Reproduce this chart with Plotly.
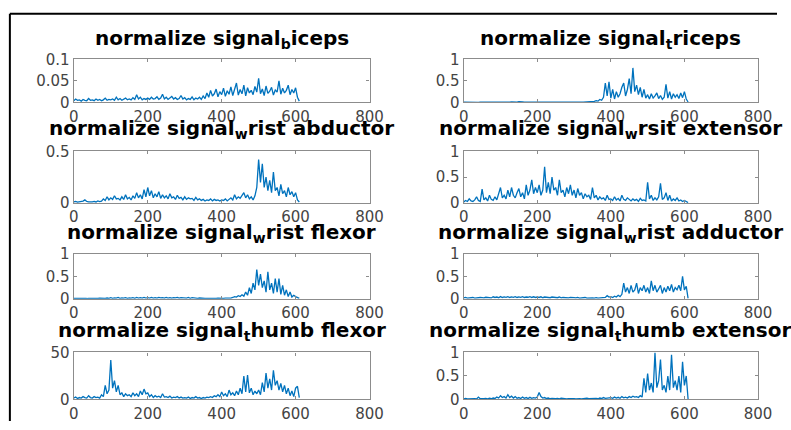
import plotly.graph_objects as go

STEP = 5  # sample spacing of the values below (x = 0, 5, 10, ...)

titles = [
    "normalize signal<sub>b</sub>iceps",
    "normalize signal<sub>t</sub>riceps",
    "normalize signal<sub>w</sub>rist abductor",
    "normalize signal<sub>w</sub>rsit extensor",
    "normalize signal<sub>w</sub>rist flexor",
    "normalize signal<sub>w</sub>rist adductor",
    "normalize signal<sub>t</sub>humb flexor",
    "normalize signal<sub>t</sub>humb extensor",
]

biceps = [
    0.004,0.008,0.005,0.006,0.003,0.007,0.005,0.004,0.009,0.005,
    0.006,0.004,0.008,0.005,0.007,0.004,0.006,0.010,0.005,0.007,
    0.006,0.008,0.005,0.012,0.006,0.009,0.005,0.007,0.010,0.006,
    0.008,0.006,0.011,0.007,0.018,0.008,0.012,0.006,0.009,0.007,
    0.010,0.007,0.012,0.008,0.009,0.013,0.007,0.010,0.019,0.008,
    0.012,0.007,0.010,0.014,0.008,0.011,0.007,0.009,0.016,0.008,
    0.011,0.006,0.009,0.007,0.013,0.006,0.010,0.008,0.012,0.007,
    0.015,0.009,0.022,0.012,0.028,0.015,0.020,0.031,0.013,0.025,
    0.018,0.033,0.014,0.027,0.019,0.036,0.016,0.029,0.045,0.017,
    0.030,0.020,0.040,0.015,0.034,0.022,0.028,0.018,0.037,0.024,
    0.056,0.020,0.031,0.016,0.038,0.021,0.026,0.035,0.017,0.029,
    0.024,0.050,0.019,0.033,0.022,0.028,0.040,0.018,0.030,0.022,
    0.034,0.012,0.003,
]

triceps = [
    0.005,0.003,0.006,0.004,0.005,0.003,0.004,0.006,0.003,0.005,
    0.004,0.006,0.003,0.005,0.004,0.007,0.004,0.005,0.003,0.006,
    0.005,0.004,0.007,0.005,0.008,0.006,0.010,0.007,0.012,0.008,
    0.020,0.009,0.012,0.007,0.010,0.006,0.008,0.005,0.007,0.005,
    0.006,0.004,0.007,0.005,0.006,0.004,0.008,0.005,0.006,0.004,
    0.005,0.007,0.004,0.006,0.005,0.008,0.005,0.006,0.004,0.007,
    0.006,0.005,0.008,0.006,0.009,0.007,0.010,0.008,0.012,0.009,
    0.015,0.025,0.040,0.030,0.070,0.050,0.120,0.450,0.150,0.480,
    0.100,0.300,0.080,0.250,0.120,0.200,0.350,0.450,0.150,0.300,
    0.550,0.200,0.800,0.250,0.400,0.180,0.350,0.120,0.300,0.100,
    0.180,0.080,0.200,0.100,0.150,0.220,0.090,0.160,0.070,0.120,
    0.420,0.100,0.250,0.080,0.200,0.120,0.180,0.090,0.220,0.110,
    0.250,0.080,0.010,
]

wrist_abductor = [
    0.010,0.015,0.008,0.012,0.010,0.018,0.030,0.015,0.012,0.010,
    0.012,0.015,0.010,0.020,0.014,0.018,0.040,0.025,0.060,0.030,
    0.050,0.035,0.070,0.040,0.045,0.030,0.060,0.035,0.080,0.040,
    0.055,0.030,0.070,0.045,0.100,0.050,0.080,0.040,0.130,0.060,
    0.150,0.070,0.120,0.050,0.090,0.060,0.110,0.045,0.080,0.050,
    0.070,0.040,0.090,0.050,0.060,0.035,0.075,0.045,0.055,0.030,
    0.060,0.035,0.050,0.040,0.045,0.025,0.055,0.030,0.040,0.025,
    0.035,0.020,0.030,0.025,0.040,0.020,0.035,0.025,0.030,0.020,
    0.030,0.025,0.040,0.020,0.035,0.050,0.030,0.080,0.040,0.060,
    0.045,0.070,0.100,0.050,0.080,0.040,0.060,0.030,0.070,0.150,
    0.420,0.200,0.380,0.150,0.250,0.120,0.220,0.100,0.300,0.120,
    0.150,0.070,0.180,0.090,0.120,0.060,0.150,0.080,0.110,0.060,
    0.100,0.030,0.010,
]

wrist_extensor = [
    0.020,0.050,0.030,0.080,0.040,0.030,0.060,0.120,0.050,0.030,
    0.270,0.060,0.100,0.040,0.150,0.070,0.050,0.120,0.060,0.200,
    0.300,0.100,0.150,0.080,0.250,0.120,0.300,0.150,0.100,0.200,
    0.280,0.120,0.200,0.080,0.350,0.150,0.250,0.450,0.180,0.300,
    0.200,0.350,0.150,0.250,0.700,0.200,0.400,0.180,0.500,0.250,
    0.300,0.150,0.450,0.200,0.250,0.120,0.300,0.180,0.350,0.150,
    0.250,0.100,0.280,0.150,0.200,0.080,0.180,0.120,0.150,0.070,
    0.300,0.100,0.150,0.060,0.120,0.080,0.100,0.050,0.150,0.070,
    0.080,0.050,0.120,0.060,0.090,0.040,0.150,0.070,0.050,0.100,
    0.060,0.040,0.080,0.050,0.070,0.030,0.090,0.050,0.060,0.040,
    0.400,0.080,0.150,0.050,0.100,0.060,0.120,0.380,0.070,0.100,
    0.200,0.050,0.150,0.040,0.080,0.050,0.100,0.040,0.060,0.030,
    0.050,0.030,0.010,
]

wrist_flexor = [
    0.010,0.008,0.012,0.006,0.010,0.008,0.011,0.007,0.012,0.009,
    0.010,0.008,0.012,0.009,0.015,0.010,0.020,0.012,0.018,0.010,
    0.025,0.012,0.020,0.015,0.030,0.012,0.022,0.015,0.025,0.012,
    0.020,0.015,0.028,0.012,0.030,0.018,0.025,0.015,0.030,0.018,
    0.025,0.015,0.032,0.018,0.025,0.015,0.030,0.020,0.028,0.015,
    0.030,0.018,0.025,0.015,0.028,0.020,0.030,0.015,0.025,0.018,
    0.022,0.015,0.030,0.012,0.025,0.015,0.020,0.010,0.018,0.012,
    0.015,0.010,0.012,0.008,0.015,0.010,0.012,0.008,0.015,0.010,
    0.012,0.010,0.015,0.012,0.020,0.015,0.030,0.050,0.040,0.070,
    0.050,0.090,0.060,0.150,0.080,0.250,0.120,0.350,0.200,0.650,
    0.300,0.550,0.250,0.400,0.150,0.600,0.200,0.350,0.120,0.450,
    0.150,0.450,0.100,0.300,0.080,0.200,0.050,0.150,0.040,0.080,
    0.050,0.020,0.010,
]

wrist_adductor = [
    0.020,0.030,0.015,0.025,0.020,0.030,0.018,0.025,0.020,0.030,
    0.025,0.020,0.035,0.025,0.030,0.020,0.045,0.030,0.040,0.025,
    0.050,0.030,0.045,0.035,0.050,0.030,0.045,0.035,0.050,0.030,
    0.045,0.035,0.050,0.030,0.040,0.035,0.050,0.030,0.045,0.030,
    0.040,0.030,0.045,0.025,0.040,0.030,0.035,0.025,0.040,0.030,
    0.035,0.025,0.040,0.020,0.030,0.025,0.035,0.020,0.030,0.020,
    0.025,0.020,0.030,0.015,0.025,0.020,0.030,0.015,0.020,0.015,
    0.020,0.015,0.025,0.015,0.020,0.015,0.020,0.030,0.070,0.040,
    0.050,0.030,0.060,0.040,0.080,0.050,0.100,0.350,0.150,0.250,
    0.120,0.300,0.150,0.200,0.350,0.120,0.250,0.180,0.300,0.150,
    0.250,0.120,0.400,0.180,0.300,0.150,0.220,0.300,0.120,0.250,
    0.150,0.280,0.180,0.320,0.150,0.250,0.200,0.300,0.180,0.500,
    0.200,0.280,0.010,
]

thumb_flexor = [
    1.5,2.5,1.0,2.0,1.5,3.0,2.0,1.5,4.0,2.0,
    1.5,3.0,2.0,2.5,1.5,5.0,3.0,15.0,6.0,10.0,
    42.0,12.0,20.0,8.0,15.0,5.0,7.0,3.0,6.0,4.0,
    5.0,3.0,7.0,4.0,6.0,3.0,9.0,5.0,11.0,6.0,
    7.0,3.0,5.0,2.0,4.0,2.5,3.5,2.0,6.0,2.5,
    3.0,2.0,3.5,1.5,2.5,2.0,3.0,1.5,2.5,1.5,
    2.0,1.5,2.5,1.0,2.0,1.5,3.0,1.5,2.0,1.0,
    2.0,1.5,2.5,2.0,3.0,2.0,4.0,3.0,5.0,3.0,
    8.0,4.0,6.0,3.0,10.0,5.0,7.0,4.0,9.0,5.0,
    12.0,6.0,25.0,8.0,26.0,7.0,12.0,5.0,9.0,6.0,
    10.0,5.0,18.0,8.0,28.0,12.0,22.0,10.0,31.0,15.0,
    20.0,10.0,17.0,8.0,15.0,6.0,12.0,4.0,9.0,3.0,
    12.0,14.0,2.0,
]

thumb_extensor = [
    0.010,0.020,0.010,0.015,0.010,0.020,0.015,0.010,0.050,0.015,
    0.010,0.015,0.020,0.010,0.025,0.015,0.030,0.020,0.050,0.030,
    0.080,0.040,0.060,0.030,0.100,0.040,0.070,0.030,0.060,0.025,
    0.040,0.020,0.050,0.025,0.040,0.020,0.045,0.025,0.040,0.030,
    0.050,0.150,0.060,0.030,0.040,0.020,0.030,0.015,0.020,0.010,
    0.015,0.020,0.010,0.025,0.015,0.020,0.010,0.015,0.020,0.010,
    0.015,0.010,0.020,0.015,0.010,0.020,0.015,0.025,0.015,0.020,
    0.015,0.030,0.020,0.015,0.030,0.020,0.040,0.025,0.035,0.030,
    0.040,0.025,0.050,0.030,0.045,0.025,0.060,0.035,0.050,0.030,
    0.060,0.040,0.070,0.050,0.060,0.040,0.080,0.050,0.450,0.150,
    0.550,0.200,0.350,0.150,1.000,0.250,0.400,0.850,0.200,0.300,
    0.150,0.500,0.200,0.950,0.250,0.400,0.200,0.500,0.150,0.800,
    0.300,0.500,0.010,
]

series = [biceps, triceps, wrist_abductor, wrist_extensor,
          wrist_flexor, wrist_adductor, thumb_flexor, thumb_extensor]

y_ranges = [[0, 0.1], [0, 1], [0, 0.5], [0, 1], [0, 1], [0, 1], [0, 50], [0, 1]]
y_ticks = [[0, 0.05, 0.1], [0, 0.5, 1], [0, 0.5], [0, 0.5, 1],
           [0, 0.5, 1], [0, 0.5, 1], [0, 50], [0, 0.5, 1]]
y_ticktext = [["0", "0.05", "0.1"], ["0", "0.5", "1"], ["0", "0.5"], ["0", "0.5", "1"],
              ["0", "0.5", "1"], ["0", "0.5", "1"], ["0", "50"], ["0", "0.5", "1"]]
x_ticks = [0, 200, 400, 600, 800]

W, H = 791, 430
col_px = [(70.5, 373.5), (470, 771.5)]
row_px = [(52.5, 97.5), (148.5, 202.5), (255.5, 302.5), (358.5, 407.5)]
title_px = [31.5, 125.5, 233.5, 336.5]
frame_left, frame_top = 5, 5


def fx(px):
    return px / W


def fy(px):
    return 1 - px / H


LINE = "#0072BD"
AX = "#8c8c8c"
TICKFONT = dict(family="DejaVu Sans", size=15, color="#444444")

fig = go.Figure()
annotations = []
for k, ys in enumerate(series):
    r, c = divmod(k, 2)
    idx = "" if k == 0 else str(k + 1)
    xs = [i * STEP for i in range(len(ys))]
    fig.add_trace(go.Scatter(x=xs, y=ys, mode="lines",
                             line=dict(color=LINE, width=1.3),
                             xaxis="x" + idx, yaxis="y" + idx,
                             showlegend=False, hoverinfo="skip"))
    x0, x1 = col_px[c]
    t, b = row_px[r]
    common = dict(showline=True, linecolor=AX, linewidth=1.3, mirror="ticks",
                  ticks="inside", ticklen=3, tickcolor=AX, tickwidth=1,
                  showgrid=False, zeroline=False, tickfont=TICKFONT)
    fig.layout["xaxis" + idx] = dict(domain=[fx(x0), fx(x1)], range=[0, 800],
                                     tickvals=x_ticks, anchor="y" + idx, **common)
    fig.layout["yaxis" + idx] = dict(domain=[fy(b), fy(t)], range=y_ranges[k],
                                     tickvals=y_ticks[k], ticktext=y_ticktext[k],
                                     anchor="x" + idx, **common)
    annotations.append(dict(text="<b>" + titles[k] + "</b>", xref="paper", yref="paper",
                            x=fx((x0 + x1) / 2), y=fy(title_px[r]),
                            xanchor="center", yanchor="middle", showarrow=False,
                            font=dict(family="DejaVu Sans", size=20, color="#000000")))

# outer figure frame: only its left and top edges fall inside the picture
frame = [
    dict(type="line", xref="paper", yref="paper", x0=fx(frame_left), x1=1,
         y0=fy(frame_top), y1=fy(frame_top), line=dict(color="#000000", width=2)),
    dict(type="line", xref="paper", yref="paper", x0=fx(frame_left), x1=fx(frame_left),
         y0=0, y1=fy(frame_top), line=dict(color="#000000", width=2)),
]

fig.update_layout(
    width=W, height=H, margin=dict(l=0, r=0, t=0, b=0),
    paper_bgcolor="white", plot_bgcolor="white",
    annotations=annotations, shapes=frame,
)

fig.write_html("out.html", config={"displayModeBar": False},
               post_script="document.body.style.margin='0';document.body.style.overflow='hidden';")
